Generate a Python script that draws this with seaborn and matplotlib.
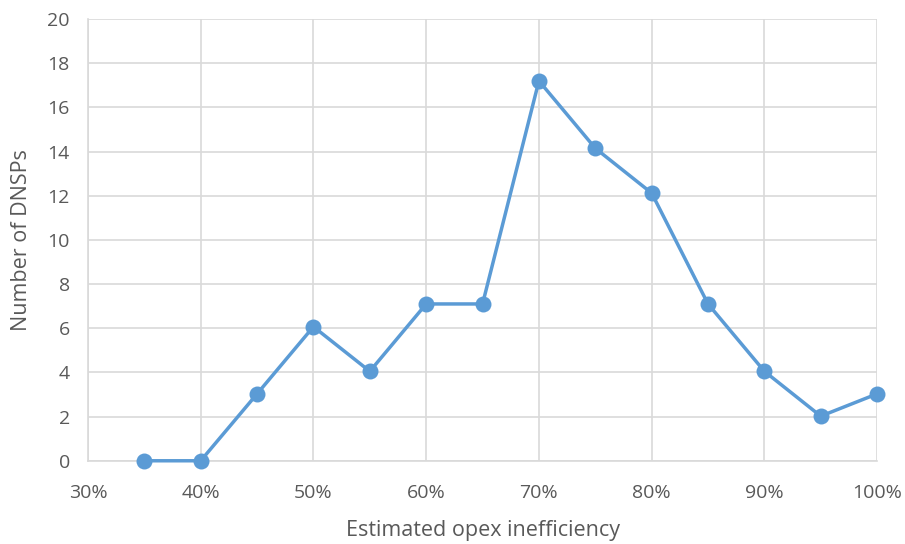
import numpy as np
import pandas as pd
import matplotlib
matplotlib.use("Agg")
import matplotlib.pyplot as plt
import seaborn as sns
from matplotlib.ticker import PercentFormatter

inefficiency = [0.35, 0.40, 0.45, 0.50, 0.55, 0.60, 0.65, 0.70, 0.75, 0.80, 0.85, 0.90, 0.95, 1.00]
dnsp_count = [0, 0, 3.03, 6.07, 4.05, 7.1, 7.1, 17.2, 14.15, 12.12, 7.1, 4.05, 2.02, 3.03]
x_ticks = [0.3, 0.4, 0.5, 0.6, 0.7, 0.8, 0.9, 1.0]
y_ticks = list(range(0, 21, 2))

df = pd.DataFrame({'ineff': inefficiency, 'count': dnsp_count})

sns.set_style('white')
plt.rcParams['font.family'] = ['Open Sans', 'DejaVu Sans']

fig = plt.figure(figsize=(9.05, 5.44), dpi=100)
ax = fig.add_axes([0.0972, 0.153, 0.872, 0.812])

sns.lineplot(data=df, x='ineff', y='count', ax=ax, color='#5B9BD5', linewidth=2.5,
             marker='o', markersize=11.5, markeredgewidth=0, clip_on=False, zorder=3)

ax.set_xlim(0.3, 1.0)
ax.set_ylim(0, 20)
ax.set_xticks(x_ticks)
ax.set_yticks(y_ticks)
ax.xaxis.set_major_formatter(PercentFormatter(1.0, decimals=0))
ax.grid(True, color='#d9d9d9', linewidth=1.2)
ax.set_axisbelow(True)
for side in ['top', 'right']:
    ax.spines[side].set_visible(False)
ax.spines['left'].set_color('#d9d9d9')
ax.spines['bottom'].set_color('#d9d9d9')
ax.spines['left'].set_linewidth(1.2)
ax.spines['bottom'].set_linewidth(1.2)
ax.tick_params(axis='both', length=0, labelsize=14, labelcolor='#595959')
ax.tick_params(axis='x', pad=17)
ax.tick_params(axis='y', pad=13)

ax.set_xlabel('Estimated opex inefficiency', fontsize=15.5, color='#595959', labelpad=13)
ax.set_ylabel('Number of DNSPs', fontsize=15.5, color='#595959', labelpad=11)

fig.savefig('out.png', dpi=100)
